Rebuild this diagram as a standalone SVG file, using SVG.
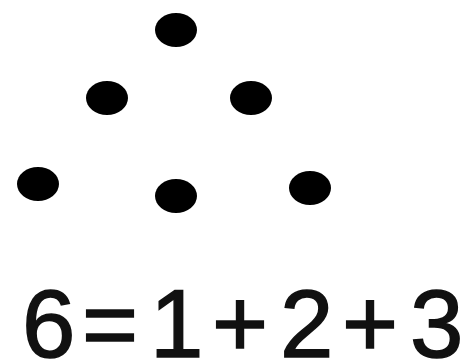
<svg xmlns="http://www.w3.org/2000/svg" width="464" height="361" viewBox="0 0 464 361">
<style>
.dot{fill:#000}
.eq{font-family:"Liberation Sans","DejaVu Sans",sans-serif;font-size:96px;fill:#111;stroke:#111;stroke-width:1.5}
</style>
<rect width="464" height="361" fill="#fff"/>
<g id="dots">
<ellipse class="dot" cx="176" cy="30" rx="21" ry="17"/>
<ellipse class="dot" cx="107" cy="98" rx="21" ry="17"/>
<ellipse class="dot" cx="251" cy="98" rx="21" ry="17"/>
<ellipse class="dot" cx="38" cy="184" rx="21" ry="17"/>
<ellipse class="dot" cx="176" cy="196" rx="21" ry="17"/>
<ellipse class="dot" cx="310" cy="188" rx="21" ry="17"/>
</g>
<text class="eq" x="22 82 150 212 280 342 410" y="357">6=1+2+3</text>
</svg>
